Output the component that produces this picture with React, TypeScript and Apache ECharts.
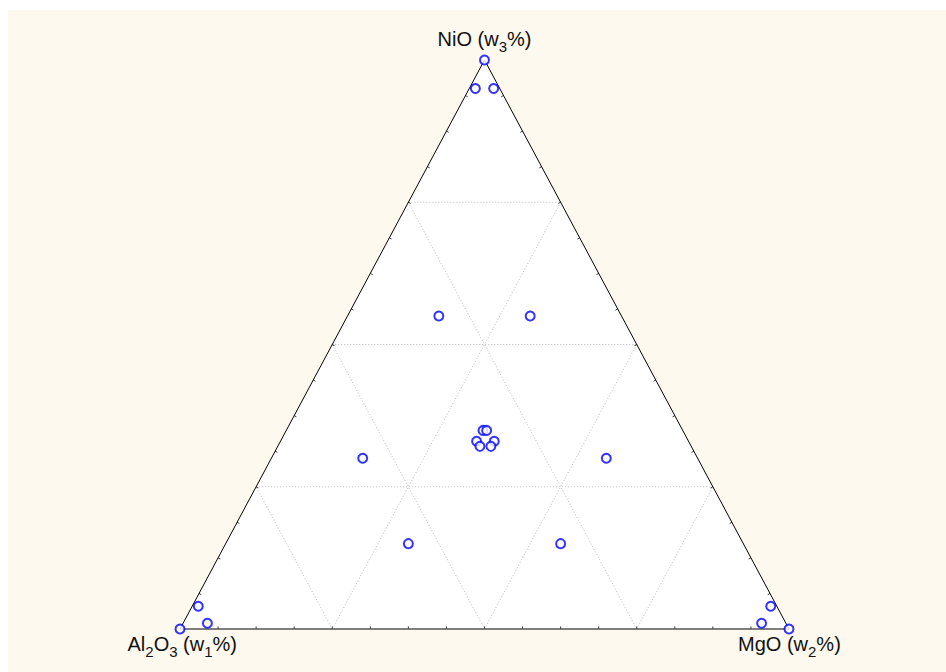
import React, { useEffect, useRef } from "react";
import * as echarts from "echarts";

// Ternary composition of each sample (percent): w1 = Al2O3, w2 = MgO, w3 = NiO
const w1 = [0, 4, 1, 30, 15, 32.8, 32.2, 34.8, 31.9, 34.7, 32.9, 55, 15, 55, 30, 100, 95, 95, 0, 1, 4];
const w2 = [0, 1, 4, 15, 30, 32.3, 32.9, 32.2, 35.1, 33.2, 35.0, 15, 55, 30, 55, 0, 1, 4, 100, 95, 95];
const w3 = [100, 95, 95, 55, 55, 34.9, 34.9, 33.0, 33.0, 32.1, 32.1, 30, 30, 15, 15, 0, 4, 1, 0, 4, 1];

const gridLevels = [25, 50, 75];
const tickLevels = [6.25, 12.5, 18.75, 25, 31.25, 37.5, 43.75, 50, 56.25, 62.5, 68.75, 75, 81.25, 87.5, 93.75];

// vertex labels, as [text, isSubscript] pieces
const labelNiO: [string, boolean][] = [["NiO (w", false], ["3", true], ["%)", false]];
const labelAl2O3: [string, boolean][] = [["Al", false], ["2", true], ["O", false], ["3", true], [" (w", false], ["1", true], ["%)", false]];
const labelMgO: [string, boolean][] = [["MgO (w", false], ["2", true], ["%)", false]];

const FONT = "'Liberation Sans', Arial, sans-serif";
const MAIN_SIZE = 20;
const SUB_SIZE = 15;

function toXY(a: number, b: number, c: number): [number, number] {
  const s = a + b + c;
  return [(b + c / 2) / s, c / s];
}

let measureCtx: CanvasRenderingContext2D | null = null;
function measure(text: string, size: number): number {
  if (!measureCtx) measureCtx = document.createElement("canvas").getContext("2d");
  if (!measureCtx) return text.length * size * 0.55;
  measureCtx.font = `${size}px ${FONT}`;
  return measureCtx.measureText(text).width;
}

function buildLabel(pieces: [string, boolean][], anchorX: number, topY: number, align: "left" | "center" | "right") {
  const widths = pieces.map(([t, sub]) => measure(t, sub ? SUB_SIZE : MAIN_SIZE));
  const total = widths.reduce((s, w) => s + w, 0);
  let x = align === "left" ? anchorX : align === "right" ? anchorX - total : anchorX - total / 2;
  const children: any[] = [];
  pieces.forEach(([t, sub], i) => {
    children.push({
      type: "text",
      x,
      y: sub ? topY + 9.5 : topY,
      style: {
        text: t,
        fontSize: sub ? SUB_SIZE : MAIN_SIZE,
        fontFamily: FONT,
        fill: "#111",
        align: "left",
        verticalAlign: "top",
      },
    });
    x += widths[i];
  });
  return { type: "group", children, silent: true };
}

export default function App() {
  const ref = useRef<HTMLDivElement>(null);

  useEffect(() => {
    if (!ref.current) return;
    const chart = echarts.init(ref.current, undefined, { renderer: "svg" });

    const points = w1.map((a, i) => toXY(a, w2[i], w3[i]));

    const renderFrame = (_params: any, api: any) => {
      const P = (a: number, b: number, c: number) => api.coord(toXY(a, b, c)) as number[];
      const A = P(100, 0, 0);
      const B = P(0, 100, 0);
      const C = P(0, 0, 100);
      const children: any[] = [];
      children.push({
        type: "polygon",
        shape: { points: [A, B, C] },
        style: { fill: "#ffffff", stroke: "none" },
      });
      const dotted = { stroke: "#bdbdbd", lineWidth: 1, lineDash: [1, 2] };
      const seg = (p: number[], q: number[], style: any) => ({
        type: "line",
        shape: { x1: p[0], y1: p[1], x2: q[0], y2: q[1] },
        style,
      });
      for (const g of gridLevels) {
        children.push(seg(P(100 - g, 0, g), P(0, 100 - g, g), dotted));
        children.push(seg(P(g, 100 - g, 0), P(g, 0, 100 - g), dotted));
        children.push(seg(P(100 - g, g, 0), P(0, g, 100 - g), dotted));
      }
      const edges: [number[], number[], number[]][] = [
        [A, B, C],
        [A, C, B],
        [B, C, A],
      ];
      const tickStyle = { stroke: "#333", lineWidth: 1 };
      for (const [U, V, W] of edges) {
        const dx = V[0] - U[0];
        const dy = V[1] - U[1];
        const len = Math.hypot(dx, dy);
        let nx = -dy / len;
        let ny = dx / len;
        if (nx * (W[0] - U[0]) + ny * (W[1] - U[1]) < 0) {
          nx = -nx;
          ny = -ny;
        }
        for (const t of tickLevels) {
          const f = t / 100;
          const p = [U[0] + dx * f, U[1] + dy * f];
          children.push(seg(p, [p[0] + nx * 2.5, p[1] + ny * 2.5], tickStyle));
        }
      }
      children.push(seg(A, B, { stroke: "#555", lineWidth: 1.6 }));
      children.push(seg(A, C, { stroke: "#000", lineWidth: 1 }));
      children.push(seg(B, C, { stroke: "#000", lineWidth: 1 }));
      return { type: "group", children };
    };

    chart.setOption({
      animation: false,
      grid: { left: 172, top: 50, width: 609, height: 569 },
      xAxis: { type: "value", min: 0, max: 1, show: false },
      yAxis: { type: "value", min: 0, max: 1, show: false },
      series: [
        {
          type: "custom",
          renderItem: renderFrame,
          data: [0],
          silent: true,
          z: 1,
        },
        {
          type: "scatter",
          data: points,
          symbol: "emptyCircle",
          symbolSize: 9,
          itemStyle: { color: "#0000ff", borderColor: "#0000ff", borderWidth: 2 },
          z: 5,
        },
      ],
      graphic: [
        buildLabel(labelNiO, 476.5, 19, "center"),
        buildLabel(labelAl2O3, 229, 624, "right"),
        buildLabel(labelMgO, 730, 624, "left"),
      ],
    });

    return () => chart.dispose();
  }, []);

  return (
    <div
      style={{
        position: "absolute",
        left: 8,
        top: 10,
        width: 938,
        height: 662,
        background: "#fef9ee",
      }}
    >
      <div ref={ref} style={{ width: 938, height: 662 }} />
    </div>
  );
}
